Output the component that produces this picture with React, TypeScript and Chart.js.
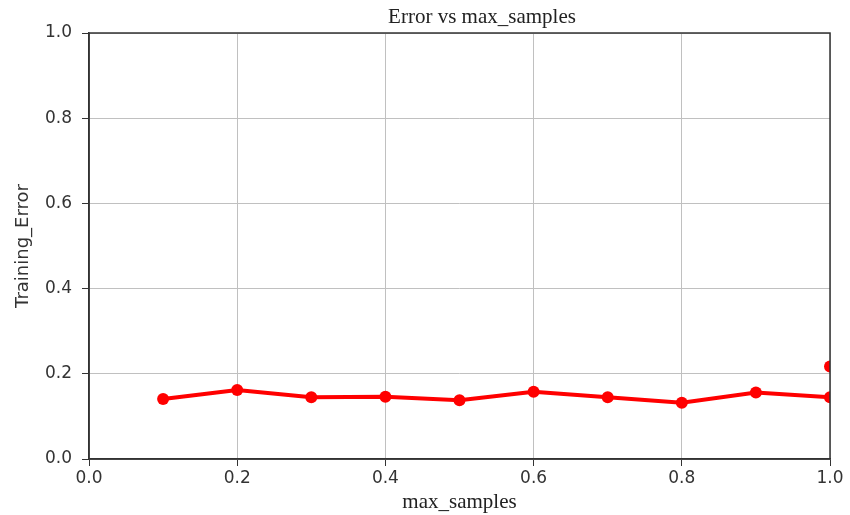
import React, { useEffect, useRef } from "react";
import { Chart, registerables } from "chart.js";

Chart.register(...registerables);

const xValues = [0.1, 0.2, 0.3, 0.4, 0.5, 0.6, 0.7, 0.8, 0.9, 1.0];
const errorValues = [0.141, 0.162, 0.145, 0.146, 0.138, 0.158, 0.145, 0.132, 0.156, 0.145];
const extraX = [1.0];
const extraValues = [0.217];
const titleText = "Error vs max_samples";
const xTitle = "max_samples";
const yTitle = "Training_Error";

const areaClip = {
  id: "areaClip",
  beforeDatasetsDraw(chart: any) {
    const { ctx, chartArea } = chart;
    ctx.save();
    ctx.beginPath();
    ctx.rect(chartArea.left, chartArea.top, chartArea.right - chartArea.left, chartArea.bottom - chartArea.top);
    ctx.clip();
  },
  afterDatasetsDraw(chart: any) {
    chart.ctx.restore();
  },
};

const frameAndTitle = {
  id: "frameAndTitle",
  afterDraw(chart: any) {
    const { ctx, chartArea } = chart;
    ctx.save();
    ctx.strokeStyle = "#333";
    ctx.lineWidth = 1.5;
    ctx.strokeRect(chartArea.left, chartArea.top, chartArea.right - chartArea.left, chartArea.bottom - chartArea.top);
    ctx.fillStyle = "#222";
    ctx.font = "21px 'Liberation Serif', serif";
    ctx.textAlign = "center";
    ctx.textBaseline = "middle";
    ctx.fillText(titleText, 482, 17);
    ctx.restore();
  },
};

const clipBox = { left: 0, top: 0, right: 0, bottom: 0 };

export default function App() {
  const ref = useRef<HTMLCanvasElement>(null);
  useEffect(() => {
    const chart = new Chart(ref.current!, {
      type: "line",
      data: {
        datasets: [
          {
            data: xValues.map((x, i) => ({ x, y: errorValues[i] })),
            borderColor: "#ff0000",
            backgroundColor: "#ff0000",
            borderWidth: 4,
            pointRadius: 6,
            pointHoverRadius: 6,
            pointBorderWidth: 0,
            clip: clipBox,
          },
          {
            data: extraX.map((x, i) => ({ x, y: extraValues[i] })),
            borderColor: "#ff0000",
            backgroundColor: "#ff0000",
            showLine: false,
            pointRadius: 6,
            pointBorderWidth: 0,
            clip: clipBox,
          },
        ],
      },
      options: {
        animation: false,
        responsive: false,
        layout: { padding: { left: 0, right: 20, top: 33, bottom: 0 } },
        plugins: { legend: { display: false }, tooltip: { enabled: false }, title: { display: false } },
        scales: {
          x: {
            type: "linear",
            min: 0,
            max: 1,
            ticks: {
              stepSize: 0.2,
              color: "#333",
              font: { family: "'DejaVu Sans', sans-serif", size: 17 },
              padding: 2,
              callback: (v: any) => Number(v).toFixed(1),
            },
            grid: { color: "#c0c0c0", lineWidth: 1, tickLength: 7, tickColor: "#333" },
            border: { color: "#333", width: 1.5 },
            title: {
              display: true,
              text: xTitle,
              color: "#222",
              font: { family: "'Liberation Serif', serif", size: 21 },
              padding: { top: 0, bottom: 0 },
            },
            afterFit: (s: any) => { s.height = 56; },
          },
          y: {
            min: 0,
            max: 1,
            ticks: {
              stepSize: 0.2,
              color: "#333",
              font: { family: "'DejaVu Sans', sans-serif", size: 17 },
              padding: 10,
              callback: (v: any) => Number(v).toFixed(1),
            },
            grid: { color: "#c0c0c0", lineWidth: 1, tickLength: 7, tickColor: "#333" },
            border: { color: "#333", width: 1.5 },
            title: {
              display: true,
              text: yTitle,
              color: "#333",
              font: { family: "'DejaVu Sans', sans-serif", size: 18 },
              padding: { top: 13, bottom: 0 },
            },
            afterFit: (s: any) => { s.width = 89; },
          },
        },
      },
      plugins: [areaClip, frameAndTitle],
    } as any);
    return () => chart.destroy();
  }, []);
  return (
    <div style={{ position: "fixed", left: 0, top: 0, width: 850, height: 515, background: "#fff" }}>
      <canvas ref={ref} width={850} height={515} />
    </div>
  );
}
